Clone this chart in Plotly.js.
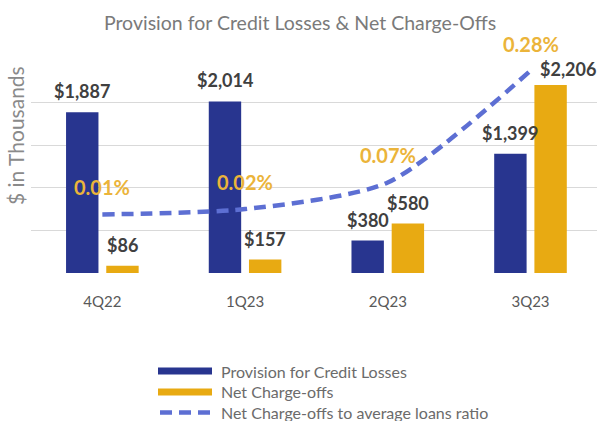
<!DOCTYPE html>
<html>
<head>
<meta charset="utf-8">
<script src="https://cdn.plot.ly/plotly-3.0.1.min.js"></script>
<style>html,body{margin:0;padding:0;background:#fff;}#chart{width:597px;height:421px;}</style>
</head>
<body>
<div id="chart"></div>
<script>
var quarters = ['4Q22', '1Q23', '2Q23', '3Q23'];
var provision = [1887, 2014, 380, 1399];
var chargeOffs = [86, 157, 580, 2206];
var ratioPct = [0.01, 0.02, 0.07, 0.28];
var provisionLabels = ['$1,887', '$2,014', '$380', '$1,399'];
var chargeOffLabels = ['$86', '$157', '$580', '$2,206'];
var ratioLabels = ['0.01%', '0.02%', '0.07%', '0.28%'];
var seriesNames = ['Provision for Credit Losses', 'Net Charge-offs', 'Net Charge-offs to average loans ratio'];

var BLUE = '#28358f';
var GOLD = '#e8aa12';
var LINE = '#5d6fd3';
var PCT = '#ebb43a';
var FONT = 'Lato, "Open Sans", sans-serif';

var W = 597, H = 421, ML = 31, MR = 0, MT = 60, MB = 148;
var PW = W - ML - MR, PH = H - MT - MB;
function px2x(px) { return (px - ML) / PW; }
function px2y(py) { return (H - MB - py) / PH; }

var bargap = 0.4366, bargroupgap = 0.194;
var half = (1 - bargap) / 4;
var DASH = '12px,7px';

var traces = [
  {type: 'bar', name: seriesNames[0], x: quarters, y: provision,
   marker: {color: BLUE}, hoverinfo: 'x+y'},
  {type: 'bar', name: seriesNames[1], x: quarters, y: chargeOffs,
   marker: {color: GOLD}, hoverinfo: 'x+y'},
  {type: 'scatter', mode: 'lines', name: seriesNames[2],
   x: quarters, y: ratioPct, yaxis: 'y2',
   line: {color: LINE, width: 4.5, dash: DASH, shape: 'spline', smoothing: 0.7}}
];

var annotations = [];
quarters.forEach(function (q, i) {
  annotations.push({x: i - half, y: provision[i], xref: 'x', yref: 'y', text: provisionLabels[i],
    showarrow: false, yshift: 21, yanchor: 'middle',
    font: {family: FONT, size: 18, color: '#404040', weight: 'bold'}});
  var last = (i === quarters.length - 1);
  annotations.push({x: i + half, y: chargeOffs[i], xref: 'x', yref: 'y', text: chargeOffLabels[i],
    showarrow: false, yshift: last ? 16 : 21, xshift: last ? 17 : 0, yanchor: 'middle',
    font: {family: FONT, size: 18, color: '#404040', weight: 'bold'}});
  annotations.push({x: i, y: ratioPct[i], xref: 'x', yref: 'y2', text: ratioLabels[i],
    showarrow: false, yshift: 27, yanchor: 'middle',
    font: {family: FONT, size: 20, color: PCT, weight: 'bold'}});
});
annotations.push({xref: 'paper', yref: 'paper', x: px2x(15), y: px2y(136), text: '$ in Thousands',
  textangle: -90, showarrow: false, xanchor: 'center', yanchor: 'middle',
  font: {family: FONT, size: 21, color: '#8a8a8a'}});

// legend (drawn as shapes + text for exact swatch geometry)
var legendRows = [371, 392, 412.5];
var swatchL = 158, swatchR = 212, textL = 219;
var shapes = [];
[BLUE, GOLD].forEach(function (c, k) {
  shapes.push({type: 'rect', xref: 'paper', yref: 'paper',
    x0: px2x(swatchL), x1: px2x(swatchR), y0: px2y(legendRows[k] - 3.5), y1: px2y(legendRows[k] + 3.5),
    fillcolor: c, line: {width: 0}});
});
shapes.push({type: 'line', xref: 'paper', yref: 'paper',
  x0: px2x(swatchL + 2), x1: px2x(swatchR), y0: px2y(legendRows[2]), y1: px2y(legendRows[2]),
  line: {color: LINE, width: 4.5, dash: DASH}});
seriesNames.forEach(function (n, k) {
  annotations.push({xref: 'paper', yref: 'paper', x: px2x(textL), y: px2y(legendRows[k]), text: n,
    showarrow: false, xanchor: 'left', yanchor: 'middle',
    font: {family: FONT, size: 16, color: '#6b6b6b'}});
});

var layout = {
  width: W, height: H,
  margin: {l: ML, r: MR, t: MT, b: MB, pad: 0, autoexpand: false},
  paper_bgcolor: '#ffffff', plot_bgcolor: '#ffffff',
  font: {family: FONT, color: '#595959'},
  title: {text: 'Provision for Credit Losses & Net Charge-Offs',
    xref: 'container', yref: 'container', x: 0.5025, y: 0.946, xanchor: 'center', yanchor: 'middle',
    font: {family: FONT, size: 19.5, color: '#7a7a7a'}},
  barmode: 'group', bargap: bargap, bargroupgap: bargroupgap,
  xaxis: {type: 'category', categoryarray: quarters, range: [-0.5, 3.466],
    showgrid: false, zeroline: false, showline: false, ticks: '',
    ticklabelstandoff: 18, tickfont: {family: FONT, size: 15, color: '#595959'}, fixedrange: true},
  yaxis: {range: [0, 2500], dtick: 500, tick0: 0, showticklabels: false, showgrid: true,
    gridcolor: '#d9d9d9', gridwidth: 1, zeroline: false, showline: false, ticks: '', fixedrange: true},
  yaxis2: {overlaying: 'y', side: 'right', range: [-0.10, 0.30], showgrid: false, zeroline: false,
    showticklabels: false, showline: false, ticks: '', fixedrange: true},
  showlegend: false,
  shapes: shapes,
  annotations: annotations
};

Plotly.newPlot('chart', traces, layout, {displayModeBar: false, staticPlot: true});
</script>
</body>
</html>
